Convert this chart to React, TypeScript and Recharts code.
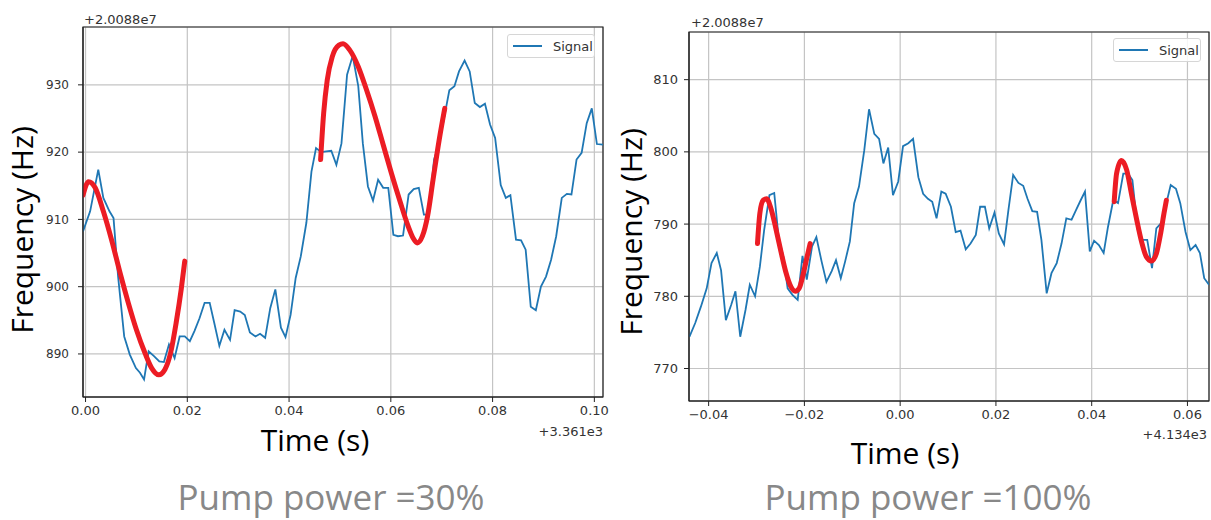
import { LineChart, Line, XAxis, YAxis, CartesianGrid, ReferenceArea } from 'recharts';

// offsets: frequency is +2.0088e7 Hz, time is +3.361e3 s (left) / +4.134e3 s (right)
const leftXTicks = [0, 0.02, 0.04, 0.06, 0.08, 0.1];
const leftYTicks = [890, 900, 910, 920, 930];
const rightXTicks = [-0.04, -0.02, 0, 0.02, 0.04, 0.06];
const rightYTicks = [770, 780, 790, 800, 810];

const leftSignal: [number, number][] = [
  [-0.0005, 908.2], [0.0009, 911.2], [0.0025, 917.4], [0.0035, 913.2], [0.0047, 911.2], [0.0055, 910.2],
  [0.0064, 901.5], [0.0076, 892.6], [0.0087, 889.9], [0.0099, 887.9], [0.0107, 887.2], [0.0115, 886.2],
  [0.0124, 890.4], [0.0134, 889.7], [0.0145, 888.9], [0.0154, 888.8], [0.0164, 891.4], [0.0175, 889.4],
  [0.0185, 892.6], [0.0195, 892.6], [0.0205, 891.9], [0.0214, 893.4], [0.0224, 895.3], [0.0234, 897.6],
  [0.0244, 897.6], [0.0253, 894.6], [0.0263, 891.2], [0.0273, 893.6], [0.0284, 892.1], [0.0293, 896.5],
  [0.0304, 896.3], [0.0313, 895.8], [0.0323, 893.2], [0.0334, 892.6], [0.0343, 893.0], [0.0353, 892.4],
  [0.0363, 896.8], [0.0373, 899.6], [0.0384, 893.9], [0.0393, 892.5], [0.0403, 895.8], [0.0413, 901.3],
  [0.0423, 904.5], [0.0434, 909.5], [0.0444, 917.1], [0.0453, 920.6], [0.0463, 920.0], [0.0473, 920.1],
  [0.0483, 920.2], [0.0493, 918.1], [0.0503, 921.3], [0.0514, 931.5], [0.0525, 934.3], [0.0536, 929.8],
  [0.0545, 921.3], [0.0555, 914.9], [0.0565, 912.8], [0.0575, 915.9], [0.0585, 914.7], [0.0595, 914.7],
  [0.0605, 907.7], [0.0614, 907.5], [0.0624, 907.6], [0.0635, 913.7], [0.0645, 914.5], [0.0655, 914.7],
  [0.0665, 910.7], [0.0674, 910.7], [0.0685, 918.9], [0.0694, 921.1], [0.0704, 924.8], [0.0715, 929.2],
  [0.0725, 929.8], [0.0734, 932.0], [0.0745, 933.6], [0.0755, 932.0], [0.0765, 927.3], [0.0775, 926.7],
  [0.0785, 927.2], [0.0795, 924.1], [0.0805, 922.1], [0.0816, 915.1], [0.0826, 913.2], [0.0835, 913.6],
  [0.0846, 907.0], [0.0856, 906.9], [0.0865, 905.5], [0.0875, 897.0], [0.0885, 896.5], [0.0895, 900.0],
  [0.0905, 901.5], [0.0915, 904.0], [0.0925, 907.5], [0.0936, 913.2], [0.0946, 913.8], [0.0955, 913.7],
  [0.0965, 918.9], [0.0975, 919.9], [0.0985, 924.3], [0.0995, 926.5], [0.1005, 921.2], [0.1017, 921.1],
];

const leftFitA: [number, number][] = [
  [-0.0005, 913.6], [0.0006, 915.6], [0.0019, 914.7], [0.0035, 911.2], [0.0051, 907.0], [0.0068, 902.0],
  [0.0084, 897.6], [0.01, 893.6], [0.0117, 890.1], [0.013, 887.9], [0.0144, 886.9], [0.0156, 887.7],
  [0.0167, 890.1], [0.0178, 894.6], [0.0188, 899.6], [0.0195, 903.8],
];

const leftFitB: [number, number][] = [
  [0.0462, 918.9], [0.0468, 925.8], [0.0475, 930.7], [0.0485, 934.2], [0.0498, 935.9], [0.0506, 936.1],
  [0.0519, 935.2], [0.0536, 932.7], [0.0552, 929.3], [0.0569, 925.3], [0.0585, 921.1], [0.0601, 916.9],
  [0.0618, 912.7], [0.0634, 909.0], [0.0644, 907.2], [0.0652, 906.5], [0.0662, 907.5], [0.0672, 910.4],
  [0.0683, 915.9], [0.0695, 921.8], [0.0706, 926.5],
];

const rightSignal: [number, number][] = [
  [-0.044, 774.4], [-0.0428, 776.3], [-0.0416, 778.6], [-0.0404, 781.1], [-0.0394, 784.6], [-0.0383, 786.0],
  [-0.0374, 783.6], [-0.0364, 776.7], [-0.0353, 778.8], [-0.0344, 780.7], [-0.0334, 774.4], [-0.0323, 778.1],
  [-0.0314, 781.6], [-0.0303, 780.0], [-0.0293, 784.1], [-0.0284, 789.2], [-0.0273, 794.0], [-0.0263, 794.3],
  [-0.0254, 788.2], [-0.0244, 785.5], [-0.0235, 781.1], [-0.0225, 780.2], [-0.0214, 779.5], [-0.0204, 785.6],
  [-0.0195, 782.3], [-0.0184, 786.9], [-0.0175, 788.2], [-0.0164, 784.8], [-0.0154, 782.0], [-0.0143, 783.5],
  [-0.0134, 785.0], [-0.0124, 782.5], [-0.0115, 784.8], [-0.0105, 787.6], [-0.0096, 792.9], [-0.0086, 795.2],
  [-0.0075, 800.2], [-0.0065, 805.9], [-0.0054, 802.5], [-0.0044, 801.8], [-0.0035, 798.4], [-0.0025, 800.6],
  [-0.0015, 794.0], [-0.0004, 795.9], [0.0006, 800.8], [0.0017, 801.2], [0.0027, 801.8], [0.0038, 796.5],
  [0.0048, 794.2], [0.0058, 793.5], [0.0067, 793.1], [0.0076, 790.8], [0.0086, 794.5], [0.0095, 794.2],
  [0.0106, 792.4], [0.0116, 788.9], [0.0126, 789.1], [0.0137, 786.5], [0.0147, 787.3], [0.0158, 788.5],
  [0.0167, 792.4], [0.0177, 792.4], [0.0186, 789.4], [0.0197, 791.6], [0.0206, 788.7], [0.0217, 787.2],
  [0.0226, 791.9], [0.0236, 796.8], [0.0247, 795.7], [0.0257, 795.3], [0.0266, 793.5], [0.0276, 791.8],
  [0.0286, 791.7], [0.0295, 787.8], [0.0306, 780.4], [0.0316, 783.2], [0.0327, 784.6], [0.0337, 787.3],
  [0.0347, 790.8], [0.0358, 790.6], [0.0367, 791.9], [0.0377, 793.3], [0.0386, 794.5], [0.0396, 786.2],
  [0.0405, 787.7], [0.0415, 787.1], [0.0425, 786.0], [0.0434, 789.6], [0.0445, 793.3], [0.0455, 792.9],
  [0.0466, 797.0], [0.0476, 797.0], [0.0485, 796.1], [0.0496, 789.2], [0.0505, 787.8], [0.0516, 787.8],
  [0.0526, 783.9], [0.0535, 789.4], [0.0546, 790.2], [0.0556, 792.9], [0.0565, 795.4], [0.0576, 794.9],
  [0.0585, 792.9], [0.0596, 788.9], [0.0606, 786.4], [0.0617, 787.1], [0.0626, 786.0], [0.0635, 782.5],
  [0.0645, 781.6],
];

const rightFitA: [number, number][] = [
  [-0.0298, 787.3], [-0.0293, 791.5], [-0.0286, 793.3], [-0.0279, 793.5], [-0.027, 792.2], [-0.0259, 789.2],
  [-0.0249, 786.2], [-0.0239, 783.4], [-0.0228, 781.3], [-0.0219, 780.7], [-0.0211, 781.1], [-0.0202, 783.2],
  [-0.0195, 785.3], [-0.0188, 787.3],
];

const rightFitB: [number, number][] = [
  [0.0447, 793.1], [0.0452, 797.0], [0.0462, 798.8], [0.0473, 797.5], [0.0483, 794.2], [0.0494, 790.6],
  [0.0504, 787.6], [0.0514, 785.5], [0.0525, 784.9], [0.0535, 785.9], [0.0544, 788.7], [0.0551, 791.5],
  [0.0556, 793.3],
];

const BLUE = '#1f77b4';
const RED = '#ec1c24';
const TICK_FONT = 'DejaVu Sans, sans-serif';
const LABEL_FONT = '"Open Sans", sans-serif';

const toRows = (pairs: [number, number][]) => pairs.map(([t, v]) => ({ t, v }));
const fmtTime = (v: number) => v.toFixed(2).replace('-', '\u2212');

interface PanelProps {
  signal: [number, number][];
  fits: [number, number][][];
  xDomain: [number, number];
  yDomain: [number, number];
  xTicks: number[];
  yTicks: number[];
  width: number;
  height: number;
  margin: { top: number; right: number; bottom: number; left: number };
  yTickMargin: number;
  yFontSize: number;
}

const Panel = ({ signal, fits, xDomain, yDomain, xTicks, yTicks, width, height, margin, yTickMargin, yFontSize }: PanelProps) => (
  <LineChart width={width} height={height} margin={margin}>
    <CartesianGrid stroke="#c4c4c4" strokeWidth={1.2} />
    <XAxis
      type="number"
      dataKey="t"
      domain={xDomain}
      ticks={xTicks}
      allowDataOverflow
      height={30}
      tickFormatter={fmtTime}
      stroke="#222"
      tickSize={5}
      tickMargin={4}
      tick={{ fill: '#333', fontSize: 13, fontFamily: TICK_FONT }}
    />
    <YAxis
      type="number"
      domain={yDomain}
      ticks={yTicks}
      allowDataOverflow
      width={40}
      stroke="#222"
      tickSize={5}
      tickMargin={yTickMargin}
      tick={{ fill: '#333', fontSize: yFontSize, fontFamily: TICK_FONT }}
    />
    <ReferenceArea x1={xDomain[0]} x2={xDomain[1]} y1={yDomain[0]} y2={yDomain[1]} fill="none" stroke="#222" strokeWidth={1.2} />
    <Line
      data={toRows(signal)}
      dataKey="v"
      type="linear"
      stroke={BLUE}
      strokeWidth={1.8}
      dot={false}
      isAnimationActive={false}
    />
    {fits.map((seg, i) => (
      <Line
        key={i}
        data={toRows(seg)}
        dataKey="v"
        type="monotone"
        stroke={RED}
        strokeWidth={5}
        strokeLinecap="round"
        dot={false}
        isAnimationActive={false}
      />
    ))}
  </LineChart>
);

const LegendBox = ({ left, top }: { left: number; top: number }) => (
  <div
    style={{
      position: 'absolute', left, top, width: 88, height: 24, boxSizing: 'border-box',
      border: '1px solid #d6d6d6', borderRadius: 3, background: 'rgba(255,255,255,0.85)',
      display: 'flex', alignItems: 'center', fontFamily: TICK_FONT, fontSize: 13, color: '#333',
    }}
  >
    <div style={{ width: 29, height: 2, background: BLUE, marginLeft: 5, marginRight: 11 }} />
    Signal
  </div>
);

const abs = (left: number, top: number, extra: React.CSSProperties = {}): React.CSSProperties => ({
  position: 'absolute', left, top, whiteSpace: 'nowrap', lineHeight: 1, ...extra,
});

const centered = (x: number, y: number, size: number, color: string, rotate = 0): React.CSSProperties => ({
  position: 'absolute', left: x, top: y, whiteSpace: 'nowrap', lineHeight: 1,
  transform: `translate(-50%, -50%)${rotate ? ` rotate(${rotate}deg)` : ''}`,
  fontFamily: LABEL_FONT, fontSize: size, color,
});

export default function App() {
  return (
    <div style={{ position: 'absolute', left: 0, top: 0, width: 1211, height: 520, background: '#fff' }}>
      <div style={{ position: 'absolute', left: 0, top: 0 }}>
        <Panel
          signal={leftSignal}
          fits={[leftFitA, leftFitB]}
          xDomain={[-0.0005, 0.1017]}
          yDomain={[883.6, 938.6]}
          xTicks={leftXTicks}
          yTicks={leftYTicks}
          width={620}
          height={450}
          margin={{ top: 27, right: 17, bottom: 23, left: 43 }}
          yTickMargin={9}
          yFontSize={12}
        />
      </div>
      <div style={{ position: 'absolute', left: 620, top: 0 }}>
        <Panel
          signal={rightSignal}
          fits={[rightFitA, rightFitB]}
          xDomain={[-0.0441, 0.0645]}
          yDomain={[765.5, 816.6]}
          xTicks={rightXTicks}
          yTicks={rightYTicks}
          width={591}
          height={450}
          margin={{ top: 32, right: 2, bottom: 19, left: 29 }}
          yTickMargin={6}
          yFontSize={13}
        />
      </div>

      <LegendBox left={507} top={34} />
      <LegendBox left={1113} top={38} />

      <div style={abs(84, 13, { fontFamily: TICK_FONT, fontSize: 13, color: '#333' })}>+2.0088e7</div>
      <div style={abs(691, 16, { fontFamily: TICK_FONT, fontSize: 13, color: '#333' })}>+2.0088e7</div>
      <div style={abs(503, 425, { width: 100, textAlign: 'right', fontFamily: TICK_FONT, fontSize: 13, color: '#333' })}>+3.361e3</div>
      <div style={abs(1107, 428, { width: 100, textAlign: 'right', fontFamily: TICK_FONT, fontSize: 13, color: '#333' })}>+4.134e3</div>

      <div style={centered(22, 230, 30, '#000', -90)}>Frequency (Hz)</div>
      <div style={centered(631, 232, 30, '#000', -90)}>Frequency (Hz)</div>
      <div style={centered(315, 440, 30, '#000')}>Time (s)</div>
      <div style={centered(905, 453, 30, '#000')}>Time (s)</div>
      <div style={centered(331, 496, 35, '#888')}>Pump power =30%</div>
      <div style={centered(928, 496, 35, '#888')}>Pump power =100%</div>
    </div>
  );
}
